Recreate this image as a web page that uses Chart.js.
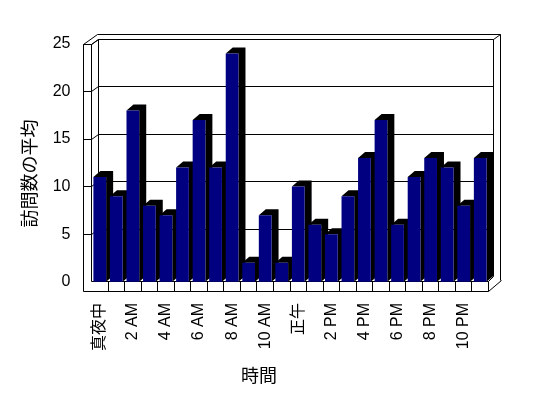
<!DOCTYPE html>
<html><head><meta charset="utf-8">
<script src="https://cdn.jsdelivr.net/npm/chart.js@4.4.1/dist/chart.umd.min.js"></script>
<style>html,body{margin:0;padding:0;background:#fff;overflow:hidden}canvas{display:block}</style>
</head><body>
<canvas id="c" width="548" height="398"></canvas>
<script>
const categories = ['真夜中','1 AM','2 AM','3 AM','4 AM','5 AM','6 AM','7 AM','8 AM','9 AM','10 AM','11 AM',
                    '正午','1 PM','2 PM','3 PM','4 PM','5 PM','6 PM','7 PM','8 PM','9 PM','10 PM','11 PM'];
const visits = [11, 9, 18, 8, 7, 12, 17, 12, 24, 2, 7, 2, 10, 6, 5, 9, 13, 17, 6, 11, 13, 12, 8, 13];
const yTicks = [0, 5, 10, 15, 20, 25];
const yTitle = '訪問数の平均';
const xTitle = '時間';

const FONT = "'Liberation Sans', Arial, 'Noto Sans CJK JP', sans-serif";
const CJK = "'Noto Sans CJK JP', 'Liberation Sans', sans-serif";

const frame3d = {
  id: 'frame3d',
  beforeDatasetsDraw(chart) {
    const {ctx, chartArea: ca, scales} = chart;
    const ys = scales.y;
    const L = ca.left, R = ca.right, n = categories.length;
    const f = v => Math.floor(v) + 0.5;
    const y0 = f(ys.getPixelForValue(0));
    const yT = f(ys.getPixelForValue(yTicks[yTicks.length - 1]));
    const yF = y0 + 10, yW = yT - 5, yO = yT - 10;
    const xa = f(L - 8), xb = f(L), xc = f(L + 7), xr1 = f(R + 5), xr2 = f(R + 12), xR = f(R);
    ctx.save();
    ctx.strokeStyle = '#000';
    ctx.lineWidth = 1;
    ctx.beginPath();
    const seg = (x1, y1, x2, y2) => { ctx.moveTo(x1, y1); ctx.lineTo(x2, y2); };
    // back wall
    seg(xc, yW, xr1, yW); seg(xr1, yW, xr1, y0 - 5); seg(xc, yW, xc, y0);
    // outer thickness
    seg(xc - 1, yO, xr2, yO); seg(xr2, yO, xr2, yF - 11); seg(xr1, yW, xr2, yO);
    // left wall
    seg(xa, yT, xa, yF); seg(xb, yT, xb, y0); seg(xa, yT, xb, yT);
    seg(xa, yT, xc - 1, yO); seg(xb, yT, xc, yW);
    // gridlines & ticks
    yTicks.forEach(v => {
      if (v === 0) return;
      const fy = f(ys.getPixelForValue(v)), gy = fy - 5;
      seg(xc, gy, xr1, gy); seg(xa, fy, xb, fy); seg(xb, fy, xc, gy);
    });
    // floor
    seg(xa, yF, xR, yF); seg(xb, y0, xR, y0);
    for (let k = 1; k <= n; k++) {
      const bx = f(L + k * (R - L) / n);
      seg(bx, y0, bx, yF);
    }
    seg(xR, yF, xr2 + 1, yF - 11); seg(xR, y0, xr1, y0 - 5);
    ctx.stroke();
    // bar depth
    const dx = 7, dy = 6;
    ctx.fillStyle = '#000';
    chart.getDatasetMeta(0).data.forEach(bar => {
      const {x, y, base, width} = bar.getProps(['x', 'y', 'base', 'width'], true);
      const l = x - width / 2, r = x + width / 2;
      ctx.beginPath();
      ctx.moveTo(l, y); ctx.lineTo(l + dx, y - dy); ctx.lineTo(r + dx, y - dy);
      ctx.lineTo(r + dx, base - dy); ctx.lineTo(r, base); ctx.lineTo(r, y);
      ctx.closePath(); ctx.fill();
    });
    ctx.restore();
  }
};

Chart.defaults.color = '#000';
new Chart(document.getElementById('c'), {
  type: 'bar',
  data: {
    labels: categories,
    datasets: [{
      data: visits,
      backgroundColor: '#000080',
      borderWidth: 0,
      categoryPercentage: 1.0,
      barPercentage: 0.77
    }]
  },
  options: {
    responsive: false,
    animation: false,
    devicePixelRatio: 1,
    layout: {padding: {left: 0, right: 30, top: 44, bottom: 0}},
    plugins: {
      legend: {display: false},
      tooltip: {enabled: false},
      title: {
        display: true, text: xTitle, position: 'bottom', color: '#000',
        font: {family: CJK, size: 18, weight: 'normal'},
        padding: {top: 1.2, bottom: 12.2}
      }
    },
    scales: {
      x: {
        grid: {display: false, drawTicks: false},
        border: {display: false},
        ticks: {
          autoSkip: false, minRotation: 90, maxRotation: 90, padding: 0,
          font: {family: FONT, size: 16},
          callback: function (val, i) { return i % 2 === 0 ? this.getLabelForValue(val) : ''; }
        },
        afterFit: s => { s.height = 60; }
      },
      y: {
        min: -2.24, max: 25,
        grid: {display: false, drawTicks: false},
        border: {display: false},
        afterBuildTicks: s => { s.ticks = yTicks.map(v => ({value: v})); },
        ticks: {padding: 21, font: {family: FONT, size: 16}},
        title: {display: true, text: yTitle, font: {family: CJK, size: 18}, padding: {top: 18, bottom: 0}},
        afterFit: s => { s.width = 91.5; }
      },
      yR: {
        type: 'linear', position: 'right', display: true,
        grid: {display: false, drawTicks: false},
        border: {display: false},
        ticks: {display: false},
        afterFit: s => { s.width = 29.5; }
      }
    }
  },
  plugins: [frame3d]
});
</script>
</body></html>
